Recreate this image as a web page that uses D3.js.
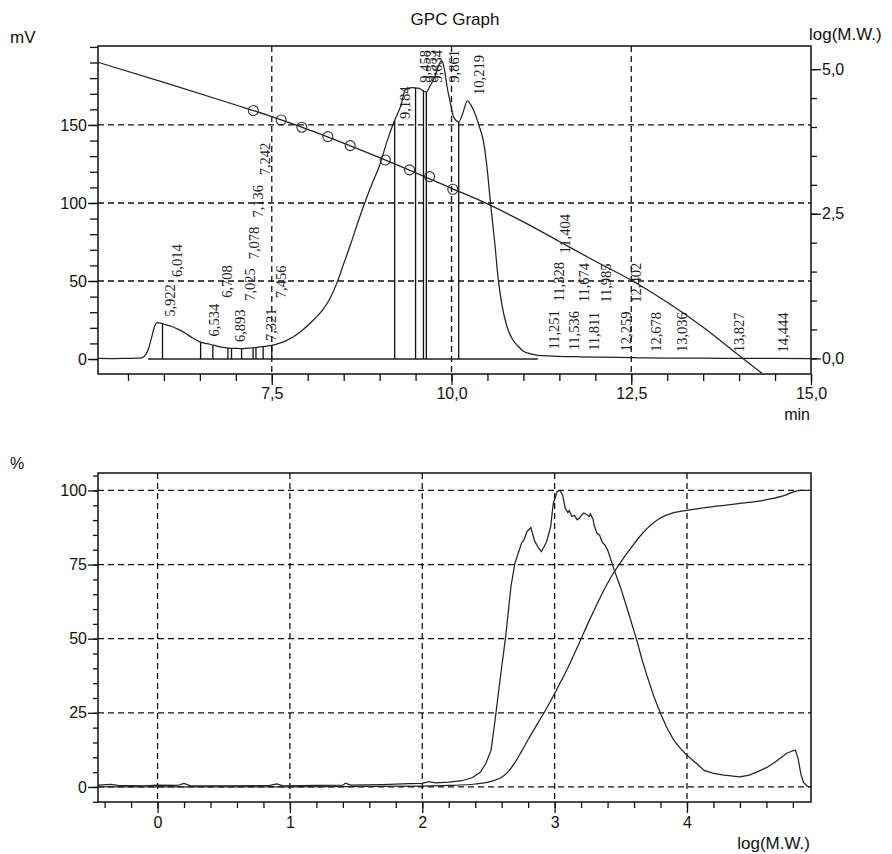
<!DOCTYPE html>
<html>
<head>
<meta charset="utf-8"/>
<title>GPC Graph</title>
<script src="https://cdn.jsdelivr.net/npm/d3@7"></script>
<style>
body { margin: 0; background: #fff; }
svg { display: block; font-family: "Liberation Sans", Arial, sans-serif; }
.grid { stroke: #111; stroke-width: 1.3; stroke-dasharray: 6,4; fill: none; }
.frame { stroke: #111; stroke-width: 1.5; fill: none; }
.trace { stroke: #222; stroke-width: 1.25; fill: none; }
.tick text { font-size: 16px; fill: #111; }
.tick line { stroke: #111; stroke-width: 1.3; }
.plabel { font-family: "Liberation Serif", "Times New Roman", serif; font-size: 14.5px; fill: #222; }
</style>
</head>
<body>
<script>
// chromatogram: retention time (min) / detector signal (mV)
var rtTime = [5.08, 5.3, 5.5, 5.65, 5.72, 5.78, 5.83, 5.87, 5.91, 5.96, 6.02, 6.1, 6.2, 6.3, 6.4, 6.5, 6.6, 6.7, 6.8, 6.9,
  7.0, 7.1, 7.2, 7.3, 7.4, 7.5, 7.6, 7.7, 7.8, 7.9, 8.0, 8.1, 8.2, 8.3, 8.4, 8.5, 8.6, 8.7, 8.8, 8.9,
  9.0, 9.1, 9.2, 9.3, 9.36, 9.45, 9.55, 9.65, 9.7, 9.77, 9.82, 9.86, 9.9, 9.94, 9.98, 10.03, 10.1, 10.16, 10.22, 10.3,
  10.38, 10.45, 10.5, 10.54, 10.6, 10.65, 10.7, 10.77, 10.85, 10.93, 11.0, 11.1, 11.2, 11.4, 11.6, 11.8, 12.0, 12.3, 12.6, 13.0,
  13.5, 14.0, 14.5, 15.0];
var rtSignal = [0.4, 0.3, 0.4, 0.5, 1.5, 6, 14, 21, 23.3, 23, 22, 21, 19, 16.5, 13.5, 11, 9.8, 8.8, 7.6, 7.0,
  6.8, 6.7, 7.0, 7.5, 8.1, 8.7, 10, 11.8, 14.3, 17.5, 21.5, 26, 31, 38, 48, 61, 74, 88, 101, 113,
  124, 139, 152, 163, 173, 174, 173.5, 171, 175, 181, 188, 191, 186, 174, 165, 155, 152, 158, 165.5, 160,
  150, 138, 120, 101, 75, 51, 35, 21, 12.5, 8, 5, 3.3, 2.4, 1.9, 1.6, 1.4, 1.2, 1.0, 0.8, 0.6,
  0.5, 0.4, 0.35, 0.3];

// calibration curve: retention time (min) / log(M.W.)
var calTime = [5.08, 6.0, 7.0, 7.5, 8.0, 9.0, 10.0, 10.5, 11.0, 11.5, 12.0, 12.5, 13.0, 13.5, 14.0, 14.32];
var calLog = [5.12, 4.77, 4.38, 4.18, 3.96, 3.47, 2.94, 2.67, 2.36, 2.02, 1.68, 1.35, 0.97, 0.54, 0.05, -0.26];

// calibration standards
var stdTime = [7.244, 7.630, 7.918, 8.280, 8.591, 9.078, 9.416, 9.695, 10.018];
var stdLog = [4.284, 4.121, 3.996, 3.834, 3.678, 3.429, 3.258, 3.142, 2.924];

// detected peaks (retention time, min)
var peakTimes = [5.922, 6.014, 6.534, 6.708, 6.893, 7.025, 7.078, 7.136, 7.242, 7.321, 7.456,
  9.184, 9.458, 9.553, 9.634, 9.861, 10.219,
  11.251, 11.328, 11.404, 11.536, 11.674, 11.811, 11.985, 12.259, 12.402, 12.678, 13.036, 13.827, 14.444];

// peak boundaries (drop lines)
var dropTimes = [5.98, 6.51, 6.68, 6.89, 6.94, 7.08, 7.24, 7.28, 7.38, 7.5, 9.21, 9.50, 9.61, 9.65, 10.10];
var baselineRange = [5.78, 11.2];

// molecular weight distribution: log(M.W.) / %
var mwLog = [-0.45, -0.35, -0.3, -0.1, 0.0, 0.15, 0.2, 0.25, 0.5, 0.85, 0.9, 0.95, 1.2, 1.4, 1.42, 1.46, 1.7, 1.9, 2.0, 2.05,
  2.1, 2.2, 2.3, 2.38, 2.44, 2.48, 2.52, 2.55, 2.59, 2.63, 2.67, 2.7, 2.73, 2.75, 2.77, 2.79, 2.82, 2.85, 2.88, 2.9,
  2.92, 2.94, 2.97, 2.99, 3.02, 3.04, 3.06, 3.08, 3.1, 3.11, 3.13, 3.15, 3.17, 3.19, 3.2, 3.22, 3.24, 3.26, 3.27, 3.29,
  3.3, 3.32, 3.34, 3.36, 3.38, 3.4, 3.43, 3.45, 3.5, 3.52, 3.57, 3.62, 3.66, 3.7, 3.75, 3.8, 3.85, 3.9, 3.95, 4.0,
  4.07, 4.13, 4.2, 4.28, 4.4, 4.47, 4.53, 4.6, 4.65, 4.7, 4.75, 4.8, 4.82, 4.84, 4.86, 4.88, 4.91, 4.94];
var mwDiff = [0.6, 0.9, 0.5, 0.4, 0.6, 0.5, 1.2, 0.4, 0.4, 0.5, 1.0, 0.4, 0.5, 0.6, 1.3, 0.6, 0.8, 1.1, 1.2, 1.8,
  1.4, 1.6, 2.1, 3.2, 5, 7.9, 12.4, 22.5, 37, 50.7, 67.6, 75.5, 79.5, 82.2, 83.5, 86, 87.5, 82.8, 80.5, 79.4,
  81, 82.8, 87.8, 95.7, 99.7, 100, 98.5, 94, 92.5, 93.2, 91.2, 91.6, 90.1, 90.8, 91.5, 92.4, 92, 91.2, 92.1, 90.3,
  88, 85.6, 84.9, 82.5, 81.6, 80, 76, 73.2, 67, 64.2, 57, 49.6, 43, 37.2, 30.5, 24.8, 19.8, 15.8, 13, 10.7,
  8, 5.6, 4.6, 4.0, 3.4, 4.0, 5.1, 6.5, 7.9, 9.5, 11.3, 12.2, 12.4, 9.5, 4.5, 1.5, 0.2, 0];
var cumLog = [-0.45, 1.0, 2.0, 2.2, 2.4, 2.5, 2.55, 2.6, 2.65, 2.7, 2.75, 2.8, 2.85, 2.9, 2.95, 3.0, 3.05, 3.1, 3.15, 3.2,
  3.25, 3.3, 3.35, 3.4, 3.45, 3.5, 3.55, 3.6, 3.65, 3.7, 3.75, 3.8, 3.9, 4.0, 4.15, 4.28, 4.4, 4.53, 4.65, 4.75,
  4.81, 4.87, 4.94];
var cumPct = [0, 0.05, 0.3, 0.5, 1.0, 1.6, 2.3, 3.3, 5.2, 8.2, 12, 16, 19.8, 23.5, 27.4, 31.5, 35.8, 40.2, 45, 50,
  55, 59.8, 64.4, 68.7, 72.5, 75.8, 79, 82, 84.8, 87.2, 89.2, 90.7, 92.5, 93.3, 94.3, 95, 95.6, 96.3, 97.3, 98.5,
  99.6, 100, 100];

// ticks
var topXMajor = [7.5, 10, 12.5, 15];
var topYMajor = [0, 50, 100, 150];
var logMajor = [0, 2.5, 5];
var botXMajor = [0, 1, 2, 3, 4];
var botYMajor = [0, 25, 50, 75, 100];

var comma1 = function(v) { return d3.format(".1f")(v).replace(".", ","); };
var comma3 = function(v) { return d3.format(".3f")(v).replace(".", ","); };

var svg = d3.select("body").append("svg")
  .attr("width", 892)
  .attr("height", 854);

// ---------- top panel ----------
var T = {left: 98, right: 811, top: 46, bottom: 374};
var x1 = d3.scaleLinear().domain([5.083, 15]).range([T.left, T.right]);
var y1 = d3.scaleLinear().domain([-9.6, 200.6]).range([T.bottom, T.top]);
var yL = d3.scaleLinear().domain([-0.27, 5.40]).range([T.bottom, T.top]);

var gTop = svg.append("g");

gTop.append("text").attr("x", 455).attr("y", 25).attr("text-anchor", "middle")
  .style("font-size", "17px").attr("fill", "#111").text("GPC Graph");
gTop.append("text").attr("x", 10).attr("y", 43).style("font-size", "17px").attr("fill", "#111").text("mV");
gTop.append("text").attr("x", 809).attr("y", 40).style("font-size", "17px").attr("fill", "#111").text("log(M.W.)");
gTop.append("text").attr("x", 810).attr("y", 420).attr("text-anchor", "end")
  .style("font-size", "16px").attr("fill", "#111").text("min");

// grid
gTop.selectAll(".hg").data(topYMajor.filter(function(d){ return d > 0; })).enter().append("line")
  .attr("class", "grid")
  .attr("x1", T.left).attr("x2", T.right)
  .attr("y1", function(d){ return y1(d); }).attr("y2", function(d){ return y1(d); });
gTop.selectAll(".vg").data(topXMajor.filter(function(d){ return d < 15; })).enter().append("line")
  .attr("class", "grid")
  .attr("y1", T.top).attr("y2", T.bottom)
  .attr("x1", function(d){ return x1(d); }).attr("x2", function(d){ return x1(d); });

gTop.append("rect").attr("class", "frame")
  .attr("x", T.left).attr("y", T.top).attr("width", T.right - T.left).attr("height", T.bottom - T.top);

// axes
gTop.append("g").attr("transform", "translate(" + T.left + ",0)")
  .call(d3.axisLeft(y1).tickValues(d3.range(0, 201, 10)).tickSize(8).tickFormat(""))
  .call(function(g){ g.select(".domain").remove(); });
gTop.append("g").attr("transform", "translate(" + T.left + ",0)")
  .call(d3.axisLeft(y1).tickValues(topYMajor).tickSize(10).tickPadding(1).tickFormat(d3.format("d")))
  .call(function(g){ g.select(".domain").remove(); });
gTop.append("g").attr("transform", "translate(0," + T.bottom + ")")
  .call(d3.axisBottom(x1).tickValues(d3.range(5.5, 15.01, 0.5)).tickSize(7).tickFormat(""))
  .call(function(g){ g.select(".domain").remove(); });
gTop.append("g").attr("transform", "translate(0," + T.bottom + ")")
  .call(d3.axisBottom(x1).tickValues(topXMajor).tickSize(11).tickPadding(3).tickFormat(comma1))
  .call(function(g){ g.select(".domain").remove(); });
gTop.append("g").attr("transform", "translate(" + T.right + ",0)")
  .call(d3.axisRight(yL).tickValues(d3.range(0, 5.01, 0.5)).tickSize(6).tickFormat(""))
  .call(function(g){ g.select(".domain").remove(); });
gTop.append("g").attr("transform", "translate(" + T.right + ",0)")
  .call(d3.axisRight(yL).tickValues(logMajor).tickSize(10).tickPadding(1).tickFormat(comma1))
  .call(function(g){ g.select(".domain").remove(); });

// signal lookup for drop lines / labels
function signalAt(t) {
  var i = d3.bisectLeft(rtTime, t);
  if (i <= 0) return rtSignal[0];
  if (i >= rtTime.length) return rtSignal[rtSignal.length - 1];
  var f = (t - rtTime[i - 1]) / (rtTime[i] - rtTime[i - 1]);
  return rtSignal[i - 1] + f * (rtSignal[i] - rtSignal[i - 1]);
}

// integration baseline
gTop.append("line").attr("stroke", "#222").attr("stroke-width", 1.3)
  .attr("x1", x1(baselineRange[0])).attr("x2", x1(baselineRange[1]))
  .attr("y1", y1(0)).attr("y2", y1(0));

// drop lines
gTop.selectAll(".drop").data(dropTimes).enter().append("line")
  .attr("stroke", "#111").attr("stroke-width", 1.3)
  .attr("x1", function(d){ return x1(d); }).attr("x2", function(d){ return x1(d); })
  .attr("y1", y1(0)).attr("y2", function(d){ return y1(signalAt(d)); });

// chromatogram
var rtData = rtTime.map(function(t, i){ return [t, rtSignal[i]]; });
gTop.append("path").datum(rtData).attr("class", "trace")
  .attr("d", d3.line().x(function(d){ return x1(d[0]); }).y(function(d){ return y1(d[1]); }).curve(d3.curveMonotoneX));

// calibration curve
var calData = calTime.map(function(t, i){ return [t, calLog[i]]; });
gTop.append("path").datum(calData).attr("class", "trace")
  .attr("d", d3.line().x(function(d){ return x1(d[0]); }).y(function(d){ return yL(d[1]); }).curve(d3.curveMonotoneX));

gTop.selectAll(".std").data(stdTime).enter().append("circle")
  .attr("cx", function(d){ return x1(d); })
  .attr("cy", function(d, i){ return yL(stdLog[i]); })
  .attr("r", 5).attr("fill", "none").attr("stroke", "#333").attr("stroke-width", 1.1);

// peak labels: stack close labels on levels above the curve
var placed = [];
peakTimes.forEach(function(t, i) {
  var prev = placed[i - 1];
  var minLevel = 0;
  if (prev && t - prev.t < 0.11 && prev.level < 4) minLevel = prev.level + 1;
  var level = minLevel;
  while (placed.some(function(p){ return p.level === level && Math.abs(p.t - t) < 0.25; })) level++;
  placed.push({t: t, level: level});

  var txt = gTop.append("text").attr("class", "plabel").attr("dy", "0.35em").text(comma3(t));
  var len = txt.node().getComputedTextLength();
  var bottom = y1(signalAt(t)) - 6 - level * (len + 9);
  if (bottom - len < T.top + 4) bottom = T.top + 4 + len;
  txt.attr("transform", "translate(" + (x1(t) + 12) + "," + bottom + ") rotate(-90)");
});

// ---------- bottom panel ----------
var B = {left: 98, right: 811, top: 473, bottom: 802};
var x2 = d3.scaleLinear().domain([-0.45, 4.937]).range([B.left, B.right]);
var y2 = d3.scaleLinear().domain([-5.07, 105.88]).range([B.bottom, B.top]);

var gBot = svg.append("g");
gBot.append("text").attr("x", 10).attr("y", 469).style("font-size", "16px").attr("fill", "#111").text("%");
gBot.append("text").attr("x", 810).attr("y", 849).attr("text-anchor", "end")
  .style("font-size", "17px").attr("fill", "#111").text("log(M.W.)");

gBot.selectAll(".hg").data(botYMajor).enter().append("line")
  .attr("class", "grid")
  .attr("x1", B.left).attr("x2", B.right)
  .attr("y1", function(d){ return y2(d); }).attr("y2", function(d){ return y2(d); });
gBot.selectAll(".vg").data(botXMajor).enter().append("line")
  .attr("class", "grid")
  .attr("y1", B.top).attr("y2", B.bottom)
  .attr("x1", function(d){ return x2(d); }).attr("x2", function(d){ return x2(d); });

gBot.append("rect").attr("class", "frame")
  .attr("x", B.left).attr("y", B.top).attr("width", B.right - B.left).attr("height", B.bottom - B.top);

gBot.append("g").attr("transform", "translate(" + B.left + ",0)")
  .call(d3.axisLeft(y2).tickValues(d3.range(-5, 106, 5)).tickSize(5).tickFormat(""))
  .call(function(g){ g.select(".domain").remove(); });
gBot.append("g").attr("transform", "translate(" + B.left + ",0)")
  .call(d3.axisLeft(y2).tickValues(botYMajor).tickSize(10).tickPadding(1).tickFormat(d3.format("d")))
  .call(function(g){ g.select(".domain").remove(); });
gBot.append("g").attr("transform", "translate(0," + B.bottom + ")")
  .call(d3.axisBottom(x2).tickValues(d3.range(-0.4, 4.81, 0.2)).tickSize(6).tickFormat(""))
  .call(function(g){ g.select(".domain").remove(); });
gBot.append("g").attr("transform", "translate(0," + B.bottom + ")")
  .call(d3.axisBottom(x2).tickValues(botXMajor).tickSize(11).tickPadding(4).tickFormat(d3.format("d")))
  .call(function(g){ g.select(".domain").remove(); });

var diffData = mwLog.map(function(v, i){ return [v, mwDiff[i]]; });
var cumData = cumLog.map(function(v, i){ return [v, cumPct[i]]; });
var line2 = d3.line().x(function(d){ return x2(d[0]); }).y(function(d){ return y2(d[1]); });
gBot.append("path").datum(diffData).attr("class", "trace").attr("d", line2);
gBot.append("path").datum(cumData).attr("class", "trace").attr("d", line2.curve(d3.curveMonotoneX));
</script>
</body>
</html>
